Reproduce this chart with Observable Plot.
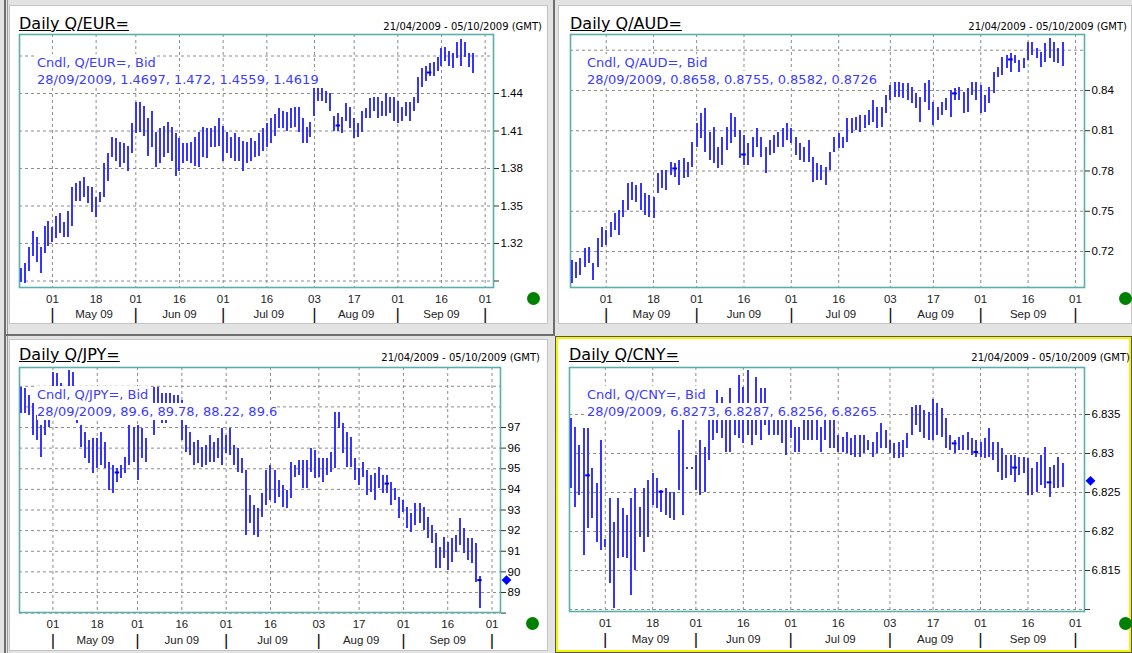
<!DOCTYPE html>
<html><head><meta charset="utf-8">
<script src="https://cdn.jsdelivr.net/npm/d3@7"></script>
<script src="https://cdn.jsdelivr.net/npm/@observablehq/plot@0.6"></script>
<style>
html,body{margin:0;padding:0;}
body{width:1132px;height:653px;position:relative;background:#e3e3e3;overflow:hidden;font-family:"DejaVu Sans",sans-serif;}
.box{position:absolute;box-sizing:border-box;}
.panel{position:absolute;box-sizing:border-box;background:#fff;border:1px solid #c4c4c4;}
.chart{position:absolute;}
.title{position:absolute;font-size:16px;line-height:16px;text-decoration:underline;color:#000;white-space:nowrap;}
.range{position:absolute;font-size:10px;line-height:10px;color:#000;white-space:nowrap;text-align:right;}
.lbl{position:absolute;font-size:13px;color:#3c3cff;white-space:nowrap;}
.lbl span{display:inline-block;background:#fff;line-height:17px;height:17px;}
.green{position:absolute;width:13px;height:13px;border-radius:50%;background:#008000;}
</style></head><body>
<script>
// ---------- data ----------
const startDate = "2009-04-21", endDate = "2009-10-05";
const tickDates = ["2009-05-01","2009-05-18","2009-06-01","2009-06-16","2009-07-01","2009-07-16","2009-08-03","2009-08-17","2009-09-01","2009-09-16","2009-10-01"];
const tickLabels = ["01","18","01","16","01","16","03","17","01","16","01"];
const monthStarts = ["2009-05-01","2009-06-01","2009-07-01","2009-08-03","2009-09-01","2009-10-01"];
const monthLabels = ["May 09","Jun 09","Jul 09","Aug 09","Sep 09"];

const eurLow = [1.289,1.288,1.298,1.310,1.305,1.296,1.312,1.318,1.321,1.324, 1.328,1.325,1.325,1.334,1.354,1.354,1.357,1.352,1.345,1.341, 1.353,1.357,1.370,1.389,1.386,1.381,1.384,1.378,1.392,1.408, 1.409,1.406,1.390,1.397,1.381,1.384,1.389,1.392,1.386,1.374, 1.378,1.384,1.386,1.384,1.382,1.381,1.389,1.388,1.397,1.397, 1.398,1.386,1.392,1.388,1.386,1.386,1.378,1.384,1.386,1.389, 1.390,1.394,1.397,1.400,1.406,1.412,1.412,1.410,1.412,1.413, 1.409,1.400,1.400,1.405,1.422,1.434,1.434,1.432,1.426,1.410, 1.410,1.408,1.418,1.412,1.404,1.405,1.409,1.420,1.420,1.426, 1.420,1.422,1.422,1.424,1.418,1.416,1.418,1.422,1.418,1.426, 1.432,1.445,1.450,1.454,1.454,1.458,1.462,1.466,1.462,1.460, 1.468,1.462,1.469,1.461,1.4559];
const eurHigh = [1.300,1.304,1.317,1.330,1.325,1.317,1.334,1.338,1.333,1.342, 1.344,1.337,1.346,1.365,1.368,1.370,1.373,1.366,1.365,1.357, 1.361,1.384,1.392,1.405,1.404,1.401,1.400,1.398,1.416,1.433, 1.433,1.430,1.420,1.426,1.409,1.412,1.414,1.417,1.413,1.408, 1.404,1.400,1.400,1.401,1.405,1.409,1.413,1.412,1.412,1.414, 1.420,1.414,1.409,1.405,1.408,1.405,1.402,1.401,1.404,1.402, 1.408,1.412,1.416,1.420,1.423,1.428,1.426,1.425,1.428,1.429, 1.429,1.420,1.413,1.417,1.444,1.444,1.444,1.442,1.440,1.422, 1.424,1.421,1.432,1.429,1.420,1.416,1.426,1.428,1.436,1.437, 1.437,1.434,1.440,1.437,1.437,1.434,1.429,1.433,1.433,1.437, 1.453,1.460,1.462,1.464,1.465,1.469,1.476,1.477,1.474,1.472, 1.481,1.483,1.481,1.472,1.472];
const eurMarks = [{i:80, v:1.4144},{i:103, v:1.4568}];

const audLow = [0.6962,0.6999,0.7021,0.7081,0.7111,0.6984,0.7081,0.7230,0.7245,0.7304, 0.7357,0.7319,0.7453,0.7506,0.7580,0.7565,0.7506,0.7468,0.7453,0.7446, 0.7632,0.7670,0.7655,0.7767,0.7752,0.7692,0.7744,0.7752,0.7826,0.7975, 0.8042,0.7938,0.7878,0.7856,0.7819,0.7841,0.7953,0.8005,0.8050,0.7893, 0.7841,0.7841,0.7901,0.7975,0.7901,0.7781,0.7916,0.7930,0.7975,0.7975, 0.8027,0.8005,0.7916,0.7878,0.7863,0.7863,0.7714,0.7729,0.7729,0.7692, 0.7804,0.7938,0.7968,0.7968,0.8012,0.8080,0.8102,0.8087,0.8117,0.8139, 0.8162,0.8117,0.8124,0.8229,0.8325,0.8348,0.8348,0.8340,0.8325,0.8303, 0.8266,0.8162,0.8311,0.8251,0.8139,0.8176,0.8214,0.8251,0.8199,0.8325, 0.8325,0.8229,0.8236,0.8363,0.8325,0.8229,0.8236,0.8303,0.8378,0.8497, 0.8512,0.8564,0.8534,0.8601,0.8534,0.8564,0.8624,0.8661,0.8638,0.8571, 0.8609,0.8638,0.8609,0.8601,0.8582];
const audHigh = [0.7133,0.7118,0.7148,0.7222,0.7230,0.7111,0.7297,0.7379,0.7357,0.7416, 0.7483,0.7506,0.7580,0.7707,0.7714,0.7692,0.7707,0.7632,0.7617,0.7603, 0.7781,0.7804,0.7804,0.7863,0.7856,0.7878,0.7893,0.7863,0.8012,0.8154, 0.8229,0.8266,0.8087,0.8124,0.7975,0.8050,0.8124,0.8229,0.8199,0.8102, 0.8065,0.8005,0.8050,0.8117,0.8050,0.7975,0.8027,0.8065,0.8087,0.8117, 0.8154,0.8117,0.8050,0.8005,0.7975,0.8027,0.7901,0.7856,0.7841,0.7826, 0.7938,0.8050,0.8080,0.8050,0.8191,0.8191,0.8199,0.8214,0.8214,0.8251, 0.8325,0.8273,0.8273,0.8363,0.8437,0.8460,0.8460,0.8452,0.8452,0.8422, 0.8378,0.8348,0.8452,0.8475,0.8311,0.8273,0.8311,0.8340,0.8400,0.8415, 0.8422,0.8385,0.8415,0.8460,0.8460,0.8437,0.8363,0.8422,0.8534,0.8571, 0.8646,0.8661,0.8676,0.8661,0.8624,0.8638,0.8758,0.8758,0.8713,0.8683, 0.8750,0.8788,0.8758,0.8713,0.8755];
const audMarks = [{i:24, v:0.7819},{i:40, v:0.7923},{i:89, v:0.8378},{i:102, v:0.8631}];

const jpyLow = [97.68,97.68,97.58,96.61,96.37,95.55,96.61,97.00,97.58,97.58, 97.44,97.34,97.80,97.58,97.19,96.03,95.50,95.25,94.77,95.01, 95.16,95.01,93.95,93.80,94.33,94.53,94.77,95.16,95.30,94.43, 95.50,95.30,97.44,96.61,97.34,97.19,97.19,97.58,97.44,97.44, 96.37,95.79,95.64,95.16,95.25,95.06,95.16,95.30,95.30,95.50, 95.16,95.74,95.64,95.16,94.82,94.77,91.76,92.35,91.76,91.67, 92.64,93.22,93.46,93.32,93.61,93.12,93.07,93.56,94.58,94.67, 94.04,94.04,94.82,94.53,94.58,94.33,94.67,94.82,95.01,96.95, 95.74,95.06,95.06,94.43,94.19,94.58,93.70,93.85,93.46,94.04, 93.80,93.80,93.22,93.46,92.59,92.88,92.10,91.91,92.25,92.35, 92.01,91.62,91.38,90.16,90.16,90.65,90.07,90.45,90.94,91.28, 90.89,90.55,90.41,89.48,88.22];
const jpyHigh = [98.94,98.89,98.55,98.16,97.58,97.10,97.80,98.31,99.67,99.62, 99.13,98.55,99.76,99.67,98.31,97.10,96.76,96.37,96.47,96.47, 96.76,96.27,95.30,95.16,95.01,95.16,95.55,97.10,97.00,97.10, 96.95,96.47,98.06,98.94,98.94,98.65,98.65,98.65,98.55,98.55, 98.31,97.10,96.76,96.27,96.37,96.03,96.13,96.61,96.27,96.47, 96.95,96.61,96.95,96.13,95.98,95.50,94.92,93.70,93.22,93.07, 93.80,94.92,95.16,94.92,94.43,94.19,93.95,95.30,95.16,95.40, 95.40,95.40,95.98,95.88,95.50,95.50,95.50,95.79,97.73,97.73, 97.19,96.76,96.52,95.50,95.01,95.30,94.92,94.67,94.77,95.06, 94.67,94.67,94.33,94.04,93.61,93.46,93.12,92.83,93.32,93.32, 93.12,92.64,92.25,91.86,91.18,91.67,91.42,91.62,91.76,92.59, 92.10,91.62,91.62,91.38,89.78];
const jpyMarks = [{i:24, v:94.82},{i:91, v:94.28},{i:114, v:89.6}];

const cnyLow = [6.8255,6.8231,6.8246,6.8169,6.8204,6.8217,6.8186,6.8176,6.8180,6.8133, 6.8101,6.8165,6.8167,6.8165,6.8118,6.8150,6.8192,6.8173,6.8192,6.8233, 6.8229,6.8224,6.8221,6.8217,6.8214,6.8253,6.8221,6.8280,6.8280,6.8253, 6.8246,6.8250,6.8291,6.8317,6.8326,6.8319,6.8301,6.8301,6.8323,6.8319, 6.8313,6.8323,6.8310,6.8323,6.8317,6.8336,6.8323,6.8323,6.8323,6.8313, 6.8297,6.8319,6.8301,6.8301,6.8317,6.8317,6.8317,6.8317,6.8301,6.8317, 6.8306,6.8306,6.8301,6.8301,6.8300,6.8297,6.8295,6.8295,6.8300,6.8304, 6.8295,6.8300,6.8306,6.8306,6.8300,6.8294,6.8294,6.8295,6.8306,6.8323, 6.8336,6.8327,6.8319,6.8317,6.8317,6.8323,6.8321,6.8306,6.8304,6.8300, 6.8304,6.8304,6.8304,6.8297,6.8295,6.8295,6.8294,6.8295,6.8291,6.8276, 6.8265,6.8268,6.8272,6.8263,6.8272,6.8274,6.8246,6.8246,6.8250,6.8259, 6.8255,6.8244,6.8255,6.8255,6.8256];
const cnyHigh = [6.8345,6.8333,6.8310,6.8332,6.8332,6.8281,6.8262,6.8317,6.8190,6.8242, 6.8212,6.8242,6.8229,6.8221,6.8242,6.8255,6.8231,6.8255,6.8265,6.8274, 6.8268,6.8253,6.8255,6.8250,6.8250,6.8329,6.8342,6.8282,6.8282,6.8297, 6.8317,6.8308,6.8345,6.8355,6.8381,6.8372,6.8355,6.8383,6.8355,6.8400, 6.8385,6.8406,6.8355,6.8397,6.8383,6.8383,6.8355,6.8355,6.8355,6.8355, 6.8355,6.8355,6.8333,6.8333,6.8355,6.8355,6.8355,6.8355,6.8333,6.8353, 6.8353,6.8353,6.8323,6.8321,6.8327,6.8319,6.8323,6.8323,6.8323,6.8317, 6.8314,6.8327,6.8338,6.8329,6.8317,6.8313,6.8314,6.8317,6.8326,6.8359, 6.8362,6.8362,6.8355,6.8353,6.8369,6.8364,6.8358,6.8345,6.8323,6.8317, 6.8321,6.8323,6.8327,6.8319,6.8317,6.8314,6.8319,6.8332,6.8314,6.8314, 6.8306,6.8297,6.8297,6.8297,6.8295,6.8295,6.8294,6.8281,6.8288,6.8297, 6.8308,6.8282,6.8285,6.8295,6.8287];
const cnyMarks = [{i:4, v:6.8272},{i:21, v:6.8251},{i:89, v:6.8313},{i:94, v:6.8302},{i:103, v:6.8282},{i:111, v:6.8263}];

const eurGrid = [1.29,1.32,1.35,1.38,1.41,1.44,1.47], eurTicks = [1.32,1.35,1.38,1.41,1.44], eurBlank = [1.29];
const audGrid = [0.72,0.75,0.78,0.81,0.84,0.87], audTicks = [0.72,0.75,0.78,0.81,0.84], audBlank = [];
const jpyGrid = [88,89,90,91,92,93,94,95,96,97,98,99], jpyTicks = [89,90,91,92,93,94,95,96,97], jpyBlank = [88];
const cnyGrid = [6.81,6.815,6.82,6.825,6.83,6.835], cnyTicks = [6.815,6.82,6.825,6.83,6.835], cnyBlank = [6.81];

const eurLabel = ["Cndl, Q/EUR=, Bid", "28/09/2009, 1.4697, 1.472, 1.4559, 1.4619"];
const audLabel = ["Cndl, Q/AUD=, Bid", "28/09/2009, 0.8658, 0.8755, 0.8582, 0.8726"];
const jpyLabel = ["Cndl, Q/JPY=, Bid", "28/09/2009, 89.6, 89.78, 88.22, 89.6"];
const cnyLabel = ["Cndl, Q/CNY=, Bid", "28/09/2009, 6.8273, 6.8287, 6.8256, 6.8265"];
const jpyClose = 89.6, cnyClose = 6.8265;
const rangeText = "21/04/2009 - 05/10/2009 (GMT)";

// ---------- helpers ----------
const fmt = d3.utcFormat("%Y-%m-%d");
const days = d3.utcDays(new Date(startDate), d3.utcDay.offset(new Date(endDate), 1)).filter(d => d.getUTCDay() % 6 !== 0);
const idx = s => days.findIndex(d => fmt(d) === s);
const ticks = tickDates.map((s, k) => ({i: idx(s), label: tickLabels[k]}));
const mStart = monthStarts.map(idx);
const months = monthLabels.map((m, k) => ({i: (mStart[k] + mStart[k + 1]) / 2, label: m}));
const BLUE = "#3535ff", GRID = "#8c8c8c";

function add(html) { document.body.insertAdjacentHTML("beforeend", html); }

// frames
add(`<div class="box" style="left:4px;top:0;width:2px;height:653px;background:#6e6e6e"></div>`);
add(`<div class="box" style="left:7px;top:0;width:1px;height:653px;background:#9a9a9a"></div>`);
add(`<div class="box" style="left:553px;top:0;width:2px;height:336px;background:#6e6e6e"></div>`);
add(`<div class="box" style="left:5px;top:334px;width:550px;height:2px;background:#6e6e6e"></div>`);
add(`<div class="panel" style="left:9px;top:5px;width:539px;height:319px"></div>`);
add(`<div class="panel" style="left:558px;top:5px;width:574px;height:319px"></div>`);
add(`<div class="panel" style="left:9px;top:339px;width:539px;height:312px"></div>`);
add(`<div class="box" style="left:555px;top:336px;width:577px;height:317px;background:#fff;border:3px solid #f5f500;outline:1px solid #555;outline-offset:-1px"></div>`);

function chart(cfg) {
  const bars = cfg.low.map((l, k) => ({i: k, date: days[k], low: l, high: cfg.high[k]}));
  const marks = [
    Plot.ruleX(ticks, {x: "i", stroke: GRID, strokeDasharray: "3,3"}),
    Plot.ruleY(cfg.grid, {y: d => d, stroke: GRID, strokeDasharray: "3,3"}),
    Plot.frame({stroke: "#5aaeae", strokeWidth: 1.6}),
    Plot.ruleX(bars, {x: "i", y1: "low", y2: "high", stroke: BLUE, strokeWidth: 2, shapeRendering: "crispEdges"}),
    Plot.ruleY(cfg.marks, {y: "v", x1: d => d.i - 0.55, x2: d => d.i + 0.55, stroke: "#0000dd", strokeWidth: 2}),
    Plot.axisY(cfg.ticks, {anchor: "right", tickSize: 5, tickPadding: 2, fontSize: 11.5, tickFormat: d => String(d), label: null, stroke: "#333"}),
    Plot.text(ticks, {x: "i", text: "label", frameAnchor: "bottom", dy: cfg.dy1, lineAnchor: "middle", fill: "#222", fontSize: 11.5}),
    Plot.text(months, {x: "i", text: "label", frameAnchor: "bottom", dy: cfg.dy2, lineAnchor: "middle", fill: "#222", fontSize: 11.5}),
    Plot.text(mStart, {x: d => d, text: () => "|", frameAnchor: "bottom", dy: cfg.dy2, lineAnchor: "middle", fill: "#111", fontSize: 17})
  ];
  if (cfg.blank.length) marks.push(Plot.axisY(cfg.blank, {anchor: "right", tickSize: 5, tickFormat: () => "", label: null, stroke: "#333"}));
  if (cfg.close != null) marks.push(Plot.dot([cfg.close], {y: d => d, frameAnchor: "right", dx: 6, symbol: "square", rotate: 45, r: 3.9, fill: "#0000ff"}));
  const svg = Plot.plot({
    width: cfg.w, height: cfg.h,
    marginLeft: cfg.m[0], marginTop: cfg.m[1], marginRight: cfg.m[2], marginBottom: cfg.m[3],
    x: {domain: [-0.3, 119.1], axis: null},
    y: {domain: cfg.domain, axis: null},
    style: {fontFamily: "'Liberation Sans', Arial, sans-serif", fontSize: "11.5px", background: "transparent", overflow: "visible"},
    marks
  });
  const wrap = document.createElement("div");
  wrap.className = "chart";
  wrap.style.left = cfg.left + "px"; wrap.style.top = cfg.top + "px";
  wrap.appendChild(svg);
  document.body.appendChild(wrap);
  // texts
  add(`<div class="title" style="left:${cfg.title[1]}px;top:${cfg.title[2]}px">${cfg.title[0]}</div>`);
  add(`<div class="range" style="right:${cfg.rangePos[0]}px;top:${cfg.rangePos[1]}px">${rangeText}</div>`);
  add(`<div class="lbl" style="left:${cfg.lblPos[0]}px;top:${cfg.lblPos[1]}px"><span>${cfg.label[0]}</span><br><span>${cfg.label[1]}</span></div>`);
  add(`<div class="green" style="left:${cfg.green[0] - 6.5}px;top:${cfg.green[1] - 6.5}px"></div>`);
}

chart({low: eurLow, high: eurHigh, marks: eurMarks, grid: eurGrid, ticks: eurTicks, blank: eurBlank, domain: [1.2848, 1.4872],
  left: 0, top: 0, w: 560, h: 330, m: [19, 34, 67, 43], dy1: 12, dy2: 27,
  title: ["Daily Q/EUR=", 19, 16], rangePos: [590, 21.5], lblPos: [37, 54], label: eurLabel, green: [533, 298]});
chart({low: audLow, high: audHigh, marks: audMarks, grid: audGrid, ticks: audTicks, blank: audBlank, domain: [0.6932, 0.8817],
  left: 556, top: 0, w: 576, h: 330, m: [14, 34, 48, 43], dy1: 12, dy2: 27,
  title: ["Daily Q/AUD=", 570, 16], rangePos: [5, 21.5], lblPos: [587, 54], label: audLabel, green: [1125, 298]});
chart({low: jpyLow, high: jpyHigh, marks: jpyMarks, grid: jpyGrid, ticks: jpyTicks, blank: jpyBlank, domain: [88.03, 99.91], close: jpyClose,
  left: 0, top: 330, w: 556, h: 323, m: [19, 37, 56, 41], dy1: 12, dy2: 28,
  title: ["Daily Q/JPY=", 19, 347], rangePos: [592, 352.5], lblPos: [37, 386], label: jpyLabel, green: [532, 623]});
chart({low: cnyLow, high: cnyHigh, marks: cnyMarks, grid: cnyGrid, ticks: cnyTicks, blank: cnyBlank, domain: [6.80974, 6.84103], close: cnyClose,
  left: 556, top: 330, w: 576, h: 323, m: [13, 37, 48, 42], dy1: 12, dy2: 28,
  title: ["Daily Q/CNY=", 569, 347], rangePos: [2, 352.5], lblPos: [587, 386], label: cnyLabel, green: [1125, 623]});
</script>
</body></html>
